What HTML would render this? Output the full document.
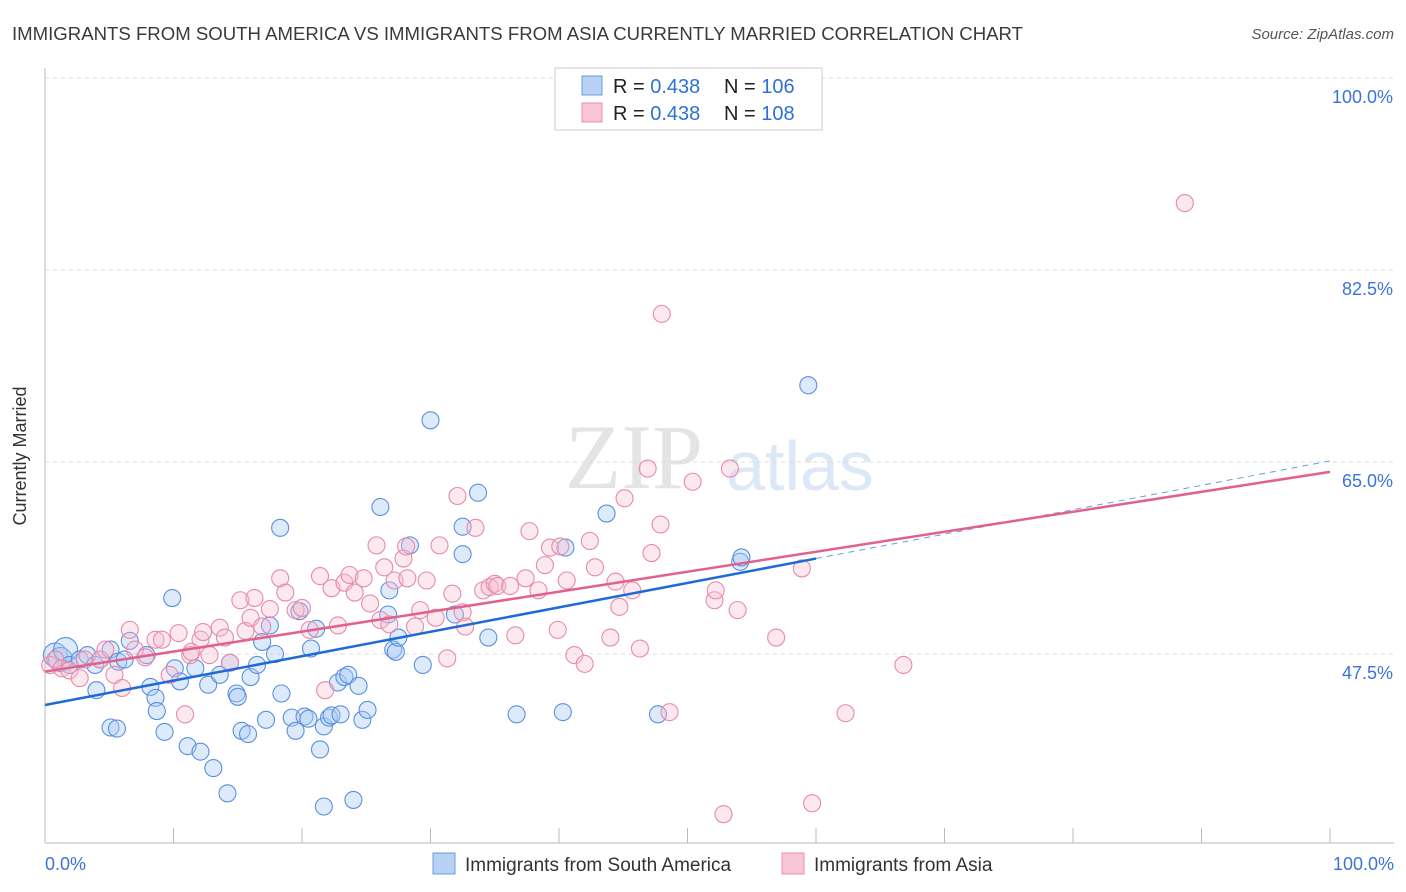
<!DOCTYPE html>
<html><head><meta charset="utf-8"><style>
body{margin:0;background:#fff;font-family:"Liberation Sans",sans-serif}
#wrap{position:relative;width:1406px;height:892px;overflow:hidden}
</style></head><body>
<div id="wrap">
<svg id="svg" width="1406" height="892" xmlns="http://www.w3.org/2000/svg">
<text x="12" y="40" font-size="18" fill="#3a3a3a" textLength="1011" lengthAdjust="spacingAndGlyphs">IMMIGRANTS FROM SOUTH AMERICA VS IMMIGRANTS FROM ASIA CURRENTLY MARRIED CORRELATION CHART</text>
<text x="1394" y="39" font-size="15" fill="#555" text-anchor="end" font-style="italic">Source: ZipAtlas.com</text>
<text x="26" y="456" font-size="18" fill="#333" text-anchor="middle" transform="rotate(-90 26 456)">Currently Married</text>
<text x="634" y="488" font-size="92" fill="#e4e4e4" font-family="Liberation Serif,serif" text-anchor="middle">ZIP</text>
<text x="800" y="490" font-size="70" fill="#dce8f5" text-anchor="middle">atlas</text>
<g id="grid"></g><g id="marks"></g><g id="lines"></g>
<rect x="555" y="68" width="267" height="62" fill="#fff" stroke="#ccc"/>
<rect x="582" y="76" width="20" height="19" fill="#b7d1f3" stroke="#6b9be0"/>
<rect x="582" y="103" width="20" height="19" fill="#f8c6d6" stroke="#ea8fae"/>
<text x="613" y="93" font-size="20" fill="#222">R = <tspan fill="#2f6fdb">0.438</tspan></text>
<text x="724" y="93" font-size="20" fill="#222">N = <tspan fill="#2f6fdb">106</tspan></text>
<text x="613" y="120" font-size="20" fill="#222">R = <tspan fill="#2f6fdb">0.438</tspan></text>
<text x="724" y="120" font-size="20" fill="#222">N = <tspan fill="#2f6fdb">108</tspan></text>
<rect x="433" y="853" width="22" height="21" fill="#b7d1f3" stroke="#6b9be0"/>
<text x="465" y="871" font-size="19" fill="#333">Immigrants from South America</text>
<rect x="782" y="853" width="22" height="21" fill="#f8c6d6" stroke="#ea8fae"/>
<text x="814" y="871" font-size="19" fill="#333">Immigrants from Asia</text>
<text x="45" y="870" font-size="18" fill="#3b73d8">0.0%</text>
<text x="1394" y="870" font-size="18" fill="#3b73d8" text-anchor="end">100.0%</text>
</svg>
</div>
<script>
const yTicks=[100,82.5,65,47.5];
const blueX=[0.8,1.2,1.6,1.9,2.7,3.3,3.9,4.3,5.1,5.7,6.2,4.0,5.1,5.6,6.6,7.9,8.2,8.6,8.7,9.3,9.9,10.1,10.5,11.1,11.7,12.1,12.7,13.1,13.6,14.2,14.4,14.9,15.0,15.3,15.8,16.0,16.5,16.9,17.2,17.5,17.9,18.3,18.4,19.2,19.5,19.8,20.2,20.5,20.7,21.1,21.4,21.7,21.7,22.1,22.3,22.8,23.0,23.3,23.6,24.0,24.4,24.7,25.1,26.1,26.7,26.8,27.1,27.3,27.5,28.4,29.4,30.0,31.9,32.5,32.5,33.7,34.5,36.7,40.3,40.5,43.7,47.7,54.1,54.2,59.4];
const blueY=[47.4,47.0,47.9,46.5,47.0,47.4,46.5,47.0,47.9,46.8,47.0,44.2,40.8,40.7,48.7,47.4,44.5,43.5,42.3,40.4,52.6,46.2,45.0,39.1,46.2,38.6,44.7,37.1,45.6,34.8,46.7,43.9,43.6,40.5,40.2,45.4,46.5,48.6,41.5,50.1,47.5,59.0,43.9,41.7,40.5,51.4,41.8,41.6,48.0,49.8,38.8,33.6,40.9,41.7,41.9,44.9,42.0,45.4,45.6,34.2,44.6,41.5,42.4,60.9,51.1,53.3,47.9,47.7,49.0,57.4,46.5,68.8,51.1,56.6,59.1,62.2,49.0,42.0,42.2,57.2,60.3,42.0,55.9,56.3,72.0];
const pinkX=[0.4,0.8,1.3,1.9,2.7,3.1,4.3,4.7,5.4,6.0,6.6,7.0,7.8,8.6,9.1,9.7,10.4,10.9,11.3,11.4,12.1,12.3,12.8,13.6,14.0,14.4,15.2,15.6,16.0,16.3,16.9,17.5,18.3,18.7,19.5,20.0,20.6,21.4,21.8,22.3,22.8,23.3,23.7,24.1,24.8,25.3,25.8,26.1,26.4,26.8,27.2,27.9,28.1,28.2,28.8,29.2,29.7,30.4,30.7,31.3,31.7,32.1,32.5,32.7,33.5,34.1,34.6,35.0,35.2,36.2,36.6,37.4,37.7,38.4,38.9,39.3,39.9,40.1,40.6,41.2,42.0,42.4,42.8,44.0,44.4,44.7,45.1,45.7,46.3,46.9,47.2,47.9,48.0,48.6,50.4,52.1,52.2,52.8,53.3,53.9,56.9,58.9,59.7,62.3,66.8,88.7];
const pinkY=[46.5,47.0,46.2,46.0,45.3,47.0,47.0,47.9,45.6,44.4,49.7,47.9,47.2,48.8,48.8,45.6,49.4,42.0,47.4,47.7,48.8,49.5,47.4,49.9,49.0,46.7,52.4,49.6,50.8,52.6,50.0,51.6,54.4,53.1,51.5,51.7,49.7,54.6,44.2,53.5,50.1,54.0,54.7,53.1,54.4,52.1,57.4,50.6,55.4,50.2,54.2,56.2,57.3,54.4,50.0,51.5,54.2,50.8,57.4,47.1,53.0,61.9,51.3,50.0,59.0,53.3,53.6,53.9,53.7,53.7,49.2,54.4,58.7,53.3,55.6,57.2,49.7,57.3,54.2,47.4,46.6,57.8,55.4,49.0,54.1,51.8,61.7,53.3,48.0,64.4,56.7,59.3,78.5,42.2,63.2,52.4,53.3,32.9,64.4,51.5,49.0,55.3,33.9,42.1,46.5,88.6];
const blueFit=[42.85,0.2225]; const pinkFit=[45.9,0.182];
const xs=v=>45+v*12.85, ys=v=>654-(v-47.5)/17.5*192;
const NS="http://www.w3.org/2000/svg";
function mk(t,a,p){const e=document.createElementNS(NS,t);for(const k in a)e.setAttribute(k,a[k]);document.getElementById(p).appendChild(e);return e;}
const ax=mk('line',{x1:45,y1:68,x2:45,y2:843,stroke:'#bbb'},'grid');


const bx=mk('line',{x1:45,y1:843,x2:1394,y2:843,stroke:'#bbb'},'grid');


for(let i=0;i<=10;i++){const t=mk('line',{x1:xs(i*10),y1:828,x2:xs(i*10),y2:843,stroke:'#bbb'},'grid');

}
yTicks.forEach(v=>{const g=mk('line',{x1:45,y1:ys(v),x2:1394,y2:ys(v),stroke:'#ddd','stroke-dasharray':'4 4'},'grid');


const t=mk('text',{x:1393,y:ys(v)+25,'font-size':18,fill:'#3b73d8','text-anchor':'end'},'grid');t.textContent=v.toFixed(1)+'%';

});
blueX.forEach((x,i)=>{const c=mk('circle',{cx:xs(x),cy:ys(blueY[i]),r:i<3?12:8.5,fill:'rgba(170,202,242,0.4)',stroke:'#5b8fe0','stroke-width':1.1},'marks');

});
pinkX.forEach((x,i)=>{const c=mk('circle',{cx:xs(x),cy:ys(pinkY[i]),r:8.5,fill:'rgba(247,190,208,0.35)',stroke:'#e88aa8','stroke-width':1.1},'marks');

});
const bl=mk('line',{x1:xs(0),y1:ys(blueFit[0]),x2:xs(60),y2:ys(blueFit[0]+blueFit[1]*60),stroke:'#1f6ad6','stroke-width':2.5},'lines');


const bd=mk('line',{x1:xs(60),y1:ys(blueFit[0]+blueFit[1]*60),x2:xs(100),y2:ys(blueFit[0]+blueFit[1]*100),stroke:'#6b9be0','stroke-width':1,'stroke-dasharray':'6 5'},'lines');


const pl=mk('line',{x1:xs(0),y1:ys(pinkFit[0]),x2:xs(100),y2:ys(pinkFit[0]+pinkFit[1]*100),stroke:'#e2608c','stroke-width':2.5},'lines');


</script>
</body></html>
